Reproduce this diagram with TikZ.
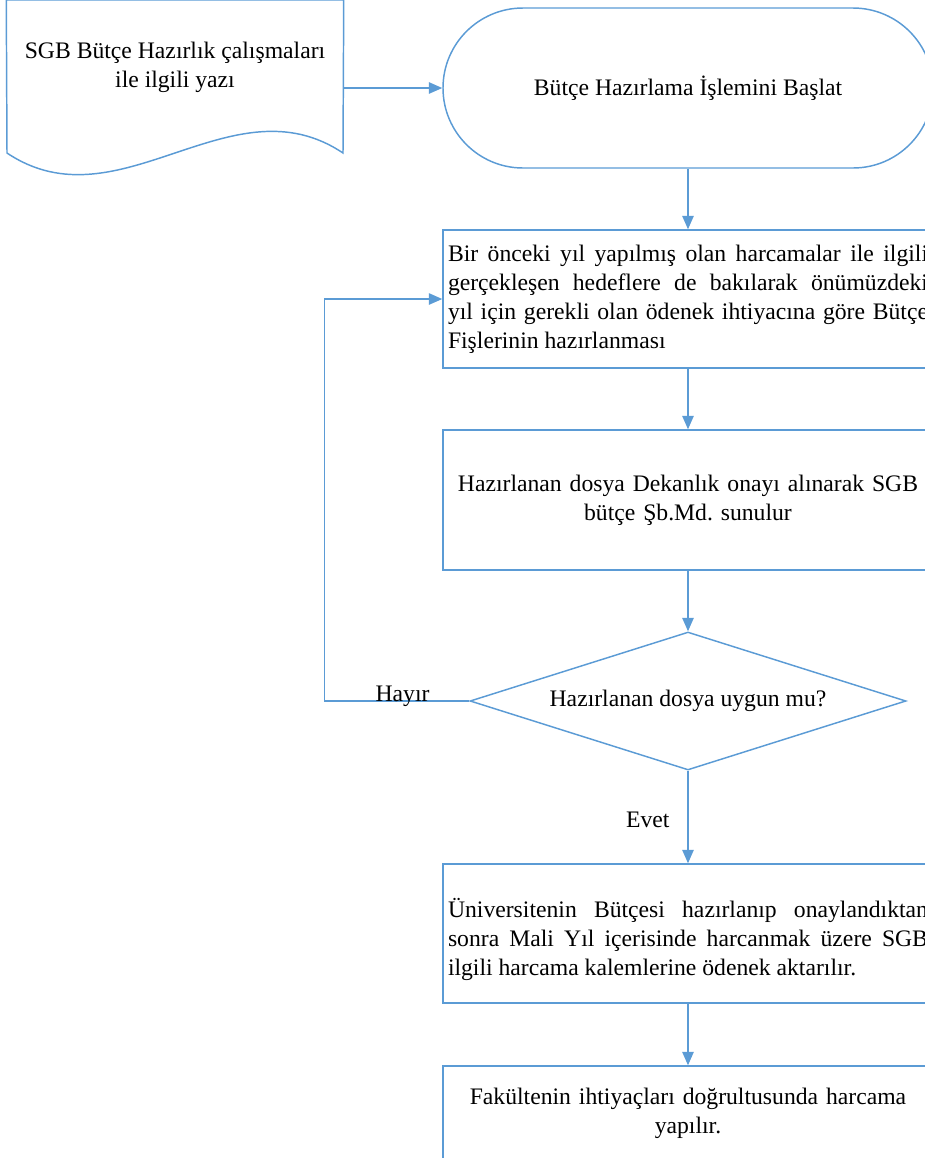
\documentclass[tikz,border=0pt]{standalone}
\usepackage{fontspec}
\setmainfont{Liberation Serif}
\usepackage{tikz}
\usetikzlibrary{arrows.meta,shapes.geometric}
\definecolor{akis}{RGB}{91,155,213}

\begin{document}
\begin{tikzpicture}[x=0.75pt,y=-0.75pt,line width=1.1pt,
  font=\fontsize{17.75pt}{21.75pt}\selectfont\frenchspacing,
  kutu/.style={rectangle,draw=akis,minimum width=367.5pt,text width=360pt,inner xsep=3.75pt,inner ysep=0pt},
  basla/.style={rectangle,draw=akis,rounded corners=60pt,minimum width=367.5pt,minimum height=120pt},
  karar/.style={diamond,draw=akis,aspect=3.16,minimum width=327pt,minimum height=103.5pt,inner sep=0pt},
  ok/.style={draw=akis,-{Triangle[length=10pt,width=8.5pt]}}]
\clip (0,0) rectangle (925,1158);
\node[minimum width=252pt,minimum height=131.25pt,inner sep=0pt] (yazi) at (175,88) {};
\draw[akis] (yazi.north west) -- (yazi.north east) -- (343,153) .. controls (231,78) and (119,228) .. (7,153) -- cycle;
\node[align=center] (yazilbl) at (175,67) {SGB Bütçe Hazırlık çalışmaları\\ile ilgili yazı};
\node[basla] (baslat) at (688,88) {Bütçe Hazırlama İşlemini Başlat};
\node[kutu,minimum height=103.5pt,align=justify] (fis) at (688,299) {Bir önceki yıl yapılmış olan harcamalar ile ilgili\linebreak gerçekleşen hedeflere de bakılarak önümüzdeki\linebreak yıl için gerekli olan ödenek ihtiyacına göre Bütçe\linebreak Fişlerinin hazırlanması};
\node[kutu,minimum height=105pt,align=center] (dosya) at (688,500) {Hazırlanan dosya Dekanlık onayı alınarak SGB\\bütçe Şb.Md. sunulur};
\node[karar] (uygun) at (688,701) {Hazırlanan dosya uygun mu?};
\node[kutu,minimum height=104.25pt,align=justify] (odenek) at (688,933.5) {\rule{0pt}{23pt}Üniversitenin Bütçesi hazırlanıp onaylandıktan\linebreak sonra Mali Yıl içerisinde harcanmak üzere SGB\linebreak ilgili harcama kalemlerine ödenek aktarılır.};
\node[kutu,minimum height=70.5pt,align=center] (harcama) at (688,1113) {Fakültenin ihtiyaçları doğrultusunda harcama\\yapılır.};

\draw[ok] (yazi.east) -- (baslat.west);
\draw[ok] (baslat) -- (fis);
\draw[ok] (fis) -- (dosya);
\draw[ok] (dosya) -- (uygun);
\draw[ok] (uygun) -- node[pos=0.53,left=10pt]{Evet} (odenek);
\draw[ok] (odenek) -- (harcama);
\draw[ok] (uygun.west) -- node[pos=0.46,anchor=base,inner sep=0pt]{Hayır} ++(-145,0) |- (fis.west);
\end{tikzpicture}
\end{document}
